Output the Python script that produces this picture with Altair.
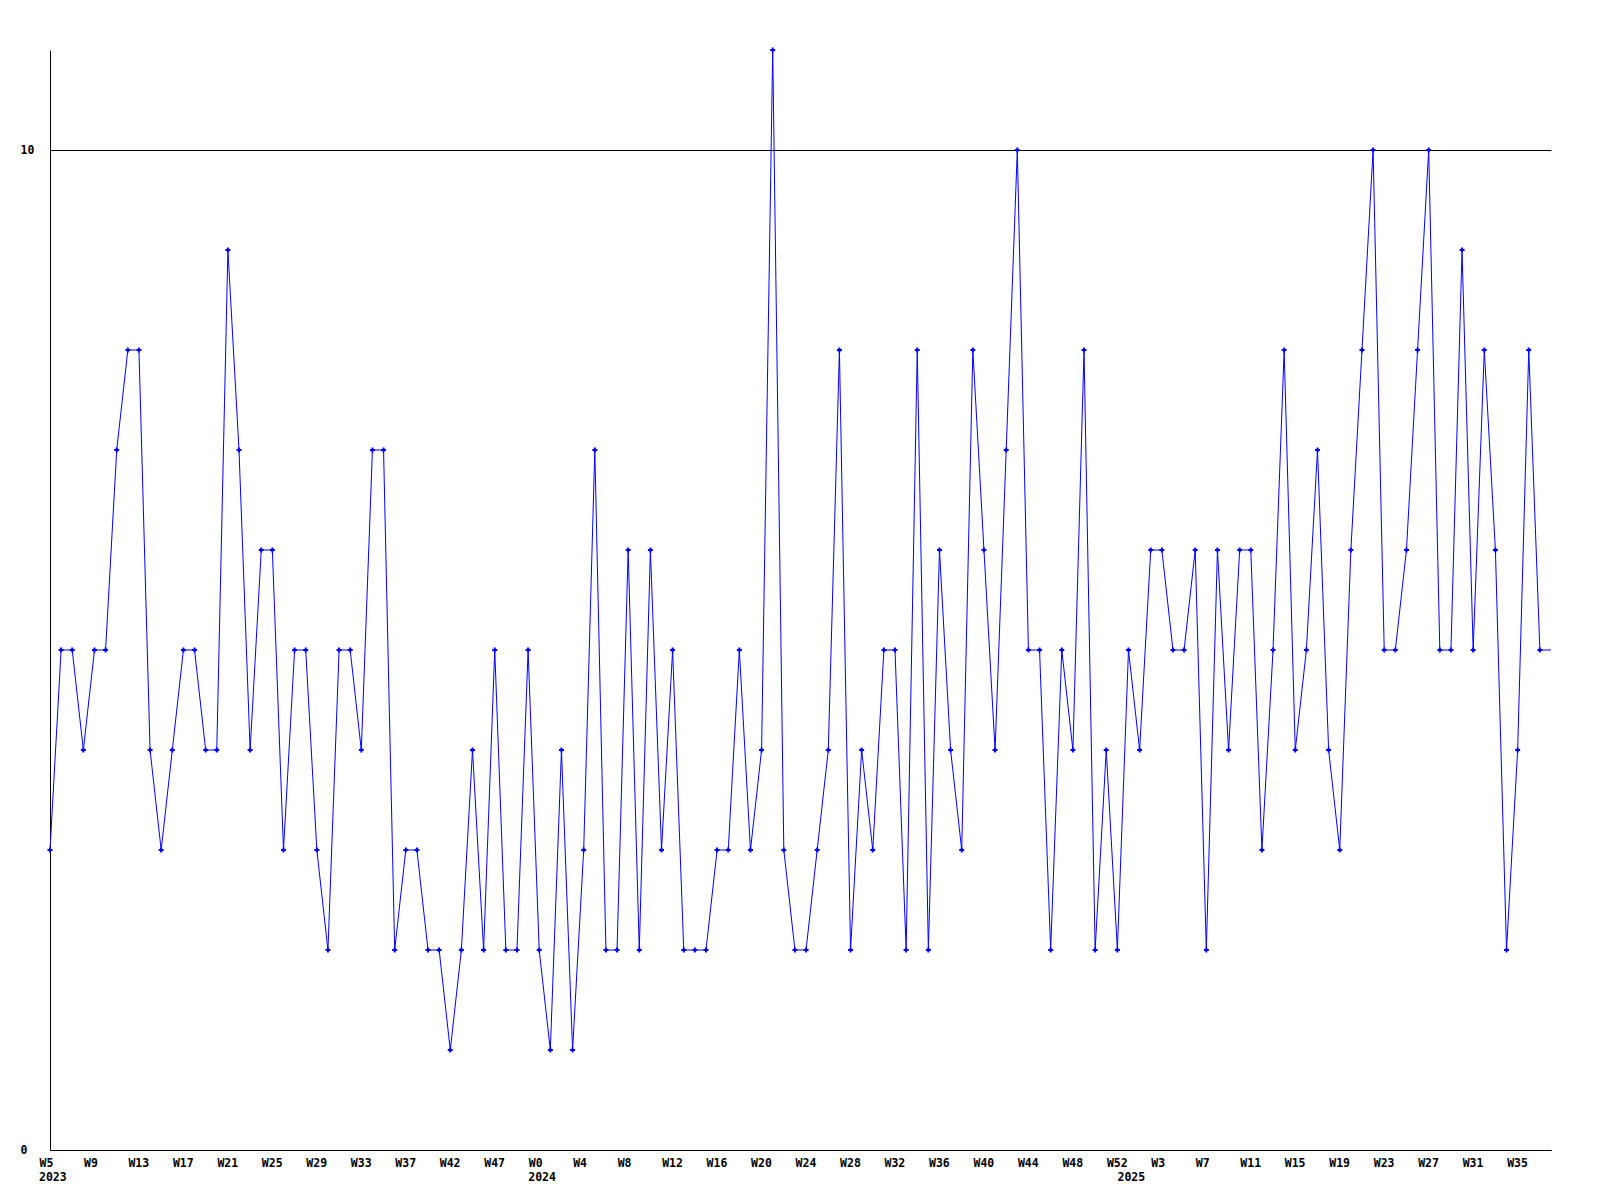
import json
import altair as alt
import pandas as pd

# weekly counts, one per point, in order
values = [3, 5, 5, 4, 5, 5, 7, 8, 8, 4,
          3, 4, 5, 5, 4, 4, 9, 7, 4, 6,
          6, 3, 5, 5, 3, 2, 5, 5, 4, 7,
          7, 2, 3, 3, 2, 2, 1, 2, 4, 2,
          5, 2, 2, 5, 2, 1, 4, 1, 3, 7,
          2, 2, 6, 2, 6, 3, 5, 2, 2, 2,
          3, 3, 5, 3, 4, 11, 3, 2, 2, 3,
          4, 8, 2, 4, 3, 5, 5, 2, 8, 2,
          6, 4, 3, 8, 6, 4, 7, 10, 5, 5,
          2, 5, 4, 8, 2, 4, 2, 5, 4, 6,
          6, 5, 5, 6, 2, 6, 4, 6, 6, 3,
          5, 8, 4, 5, 7, 4, 3, 6, 8, 10,
          5, 5, 6, 8, 10, 5, 5, 9, 5, 8,
          6, 2, 4, 8, 5, 5]

# tick labels, one every 4 points
week_labels = ["W5", "W9", "W13", "W17", "W21", "W25", "W29", "W33", "W37",
               "W42", "W47", "W0", "W4", "W8", "W12", "W16", "W20", "W24",
               "W28", "W32", "W36", "W40", "W44", "W48", "W52", "W3", "W7",
               "W11", "W15", "W19", "W23", "W27", "W31", "W35"]
tick_step = 4

year_labels = ["2023", "2024", "2025"]
year_index = [0, 44, 97]

y_ticks = [0, 10]

df = pd.DataFrame({"i": list(range(len(values))), "v": values})
years_df = pd.DataFrame({"i": year_index, "t": year_labels})

FONT = "DejaVu Sans Mono"
FS = 11.5
BLUE = "#0000ff"

n_last = len(values) - 1
xscale = alt.Scale(domain=[0, n_last], nice=False, zero=False)
yscale = alt.Scale(domain=[0, 11], nice=False)

label_expr = json.dumps(week_labels) + "[round(datum.value / %d)]" % tick_step
tick_vals = [k * tick_step for k in range(len(week_labels))]

x_axis = alt.Axis(values=tick_vals, labelExpr=label_expr, title=None,
                  grid=False, ticks=False, tickSize=0,
                  domainColor="black", domainWidth=1,
                  labelFont=FONT, labelFontSize=FS, labelFontWeight="bold",
                  labelColor="black", labelAlign="left", labelBaseline="top",
                  labelPadding=7, labelOffset=-11, labelFlush=False,
                  labelOverlap=False)

y_axis = alt.Axis(values=y_ticks, format="d", title=None, grid=True,
                  gridColor="black", gridWidth=1, gridOpacity=1,
                  ticks=False, tickSize=0,
                  domainColor="black", domainWidth=1,
                  labelFont=FONT, labelFontSize=FS, labelFontWeight="bold",
                  labelColor="black", labelAlign="left", labelBaseline="middle",
                  labelPadding=30, labelFlush=False, labelOverlap=False)

base = alt.Chart(df)

line = base.mark_line(color=BLUE, strokeWidth=1).encode(
    x=alt.X("i:Q", scale=xscale, axis=x_axis),
    y=alt.Y("v:Q", scale=yscale, axis=y_axis),
)

points = base.transform_filter(alt.datum.i < n_last).mark_point(
    shape="cross", filled=True, size=25, color=BLUE, opacity=1
).encode(
    x=alt.X("i:Q", scale=xscale),
    y=alt.Y("v:Q", scale=yscale),
)

years = alt.Chart(years_df).mark_text(
    align="left", baseline="top", dx=-11, font=FONT, fontSize=FS,
    fontWeight="bold", color="black"
).encode(
    x=alt.X("i:Q", scale=xscale),
    y=alt.value(1122),
    text="t:N",
)

chart = alt.layer(line, points, years).properties(
    width=1501, height=1100,
    padding={"left": 42, "top": 42, "right": 41, "bottom": 42},
    autosize="none",
    background="white",
).configure_view(stroke=None)

chart.save("out.html", embed_options={"renderer": "svg", "actions": False})
